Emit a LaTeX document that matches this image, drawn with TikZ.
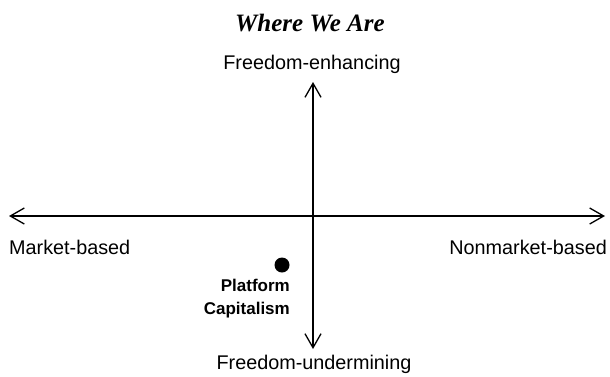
\documentclass[tikz,border=0pt]{standalone}
\usepackage{fontspec}
\setmainfont{Liberation Sans}
\newfontfamily\titlefont{Liberation Serif}
\usetikzlibrary{arrows.meta}
\usetikzlibrary{positioning}

\tikzset{
  axis/.style={line width=1.3pt,{Straight Barb[length=14pt,width=16pt]}-{Straight Barb[length=14pt,width=16pt]}},
  pole/.style={font=\fontsize{19.8}{23}\selectfont,text=black},
  point/.style={circle,fill=black,minimum size=15pt,inner sep=0pt},
}

\begin{document}
\begin{tikzpicture}[x=1pt,y=-1pt]
\useasboundingbox (0,0) rectangle (610,376);

% heading
\node[font=\titlefont\bfseries\itshape\fontsize{25}{28}\selectfont] (title) at (310,23) {Where We Are};

% ends of the two axes
\node[pole] (enh) at (312,64) {Freedom-enhancing};
\node[pole] (und) at (314,364) {Freedom-undermining};
\node[pole,anchor=west,inner sep=0pt] (mkt) at (9,247) {Market-based};
\node[pole,anchor=east,inner sep=0pt] (nonmkt) at (607,247) {Nonmarket-based};

\coordinate (n) at (313,82);
\coordinate (s) at (313,349);
\coordinate (w) at (9,216);
\coordinate (e) at (605,216);
\draw[axis] (w) -- (e);
\draw[axis] (s) -- (n);

% where platform capitalism sits
\node[point] (dot) at (282,265) {};
\node[font=\bfseries\fontsize{17}{23}\selectfont,align=right,anchor=north east,inner sep=0pt] (platform) at (290,279) {Platform\\Capitalism};

\end{tikzpicture}
\end{document}
